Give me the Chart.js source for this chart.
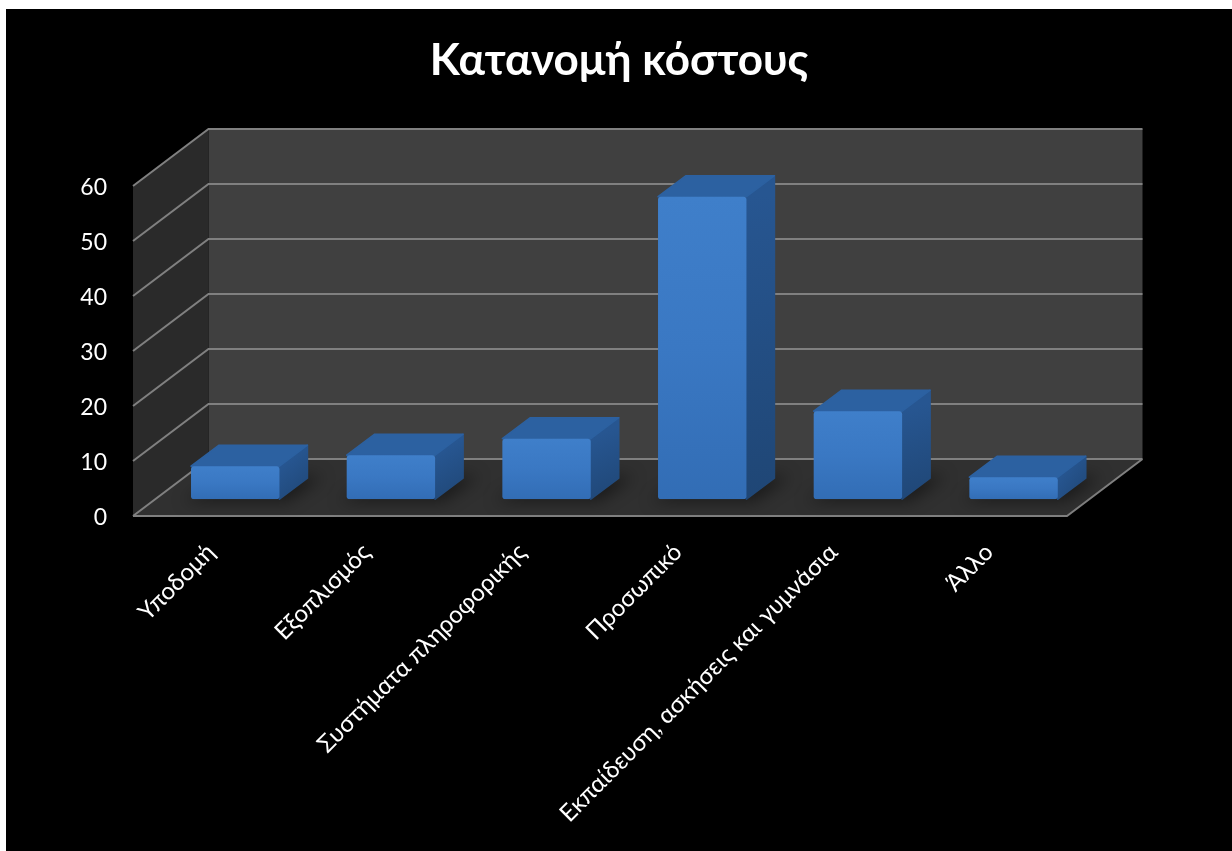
<!DOCTYPE html>
<html>
<head>
<meta charset="utf-8">
<title>Κατανομή κόστους</title>
<script src="https://cdn.jsdelivr.net/npm/chart.js@4/dist/chart.umd.min.js"></script>
<style>
    html, body { margin: 0; background: #fff; }
    #wrap { position: absolute; left: 6px; top: 9px; width: 1226px; height: 842px; background: #000; }
</style>
</head>
<body>
<div id="wrap"><canvas id="costChart" width="1226" height="842"></canvas></div>
<script>
// Chart data
const categories = ['Υποδομή', 'Εξοπλισμός', 'Συστήματα πληροφορικής', 'Προσωπικό', 'Εκπαίδευση, ασκήσεις και γυμνάσια', 'Άλλο'];
const costValues = [6, 8, 11, 55, 16, 4];
const yTicks = [0, 10, 20, 30, 40, 50, 60];

const FONT = 'Lato, "Open Sans", sans-serif';

// Fake 3D: how far the back wall sits from the front plane
const WALL_DX = 75.5, WALL_DY = -57;
// Where the bars stand on the floor, and how deep they are
const BAR_DX = 24.4, BAR_DY = -16.8;
const DEPTH_DX = 28, DEPTH_DY = -21;

function fillPoly(ctx, pts, fill) {
    ctx.beginPath();
    pts.forEach((p, i) => i ? ctx.lineTo(p[0], p[1]) : ctx.moveTo(p[0], p[1]));
    ctx.closePath();
    ctx.fillStyle = fill;
    ctx.fill();
}

function linGrad(ctx, x0, y0, x1, y1, c0, c1) {
    const g = ctx.createLinearGradient(x0, y0, x1, y1);
    g.addColorStop(0, c0);
    g.addColorStop(1, c1);
    return g;
}

function barGeometry(chart) {
    return chart.getDatasetMeta(0).data.map(el => {
        const p = el.getProps(['x', 'y', 'base', 'width'], true);
        return {
            l: p.x - p.width / 2 + BAR_DX,
            r: p.x + p.width / 2 + BAR_DX,
            top: p.y + BAR_DY,
            base: p.base + BAR_DY
        };
    });
}

const room3d = {
    id: 'room3d',
    afterLayout(chart) {
        // Lato sits a little high on the middle baseline, nudge the value labels down
        const y = chart.scales.y;
        const drawLabels = y.drawLabels;
        y.drawLabels = function (area) {
            chart.ctx.save();
            chart.ctx.translate(0, 2);
            drawLabels.call(y, area);
            chart.ctx.restore();
        };
    },
    beforeDatasetsDraw(chart) {
        const ctx = chart.ctx;
        const { left, right, top, bottom } = chart.chartArea;
        const y = chart.scales.y;
        const dx = WALL_DX, dy = WALL_DY;

        // walls and floor
        fillPoly(ctx, [[left + dx, top + dy], [right + dx, top + dy], [right + dx, bottom + dy], [left + dx, bottom + dy]], '#404040');
        fillPoly(ctx, [[left, top], [left + dx, top + dy], [left + dx, bottom + dy], [left, bottom]], '#2a2a2a');
        fillPoly(ctx, [[left, bottom], [left + dx, bottom + dy], [right + dx, bottom + dy], [right, bottom]], '#303030');

        // grid lines run along the side wall and then across the back wall
        ctx.lineWidth = 2;
        ctx.strokeStyle = '#808080';
        yTicks.forEach(v => {
            const py = y.getPixelForValue(v);
            ctx.beginPath();
            ctx.moveTo(left, py);
            ctx.lineTo(left + dx, py + dy);
            ctx.lineTo(right + dx, py + dy);
            if (v === 0) {
                ctx.moveTo(left, py);
                ctx.lineTo(right, py);
                ctx.lineTo(right + dx, py + dy);
            }
            ctx.stroke();
        });

        const bars = barGeometry(chart);

        // soft shadows on the floor
        ctx.save();
        ctx.filter = 'blur(8px)';
        bars.forEach(b => {
            fillPoly(ctx, [
                [b.l - 8, b.base + 2],
                [b.r + 8, b.base + 2],
                [b.r + DEPTH_DX + 16, b.base + DEPTH_DY - 2],
                [b.l + DEPTH_DX + 8, b.base + DEPTH_DY - 2]
            ], 'rgba(0,0,0,0.45)');
        });
        ctx.restore();

        // side and top faces, the front face comes from the bar itself
        ctx.lineJoin = 'round';
        ctx.lineWidth = 1.5;
        bars.forEach(b => {
            fillPoly(ctx, [
                [b.r, b.top],
                [b.r + DEPTH_DX, b.top + DEPTH_DY],
                [b.r + DEPTH_DX, b.base + DEPTH_DY],
                [b.r, b.base]
            ], linGrad(ctx, b.r, b.top, b.r + DEPTH_DX, b.base, '#275691', '#1f4675'));
            ctx.strokeStyle = ctx.fillStyle;
            ctx.stroke();
            fillPoly(ctx, [
                [b.l, b.top],
                [b.l + DEPTH_DX, b.top + DEPTH_DY],
                [b.r + DEPTH_DX, b.top + DEPTH_DY],
                [b.r, b.top]
            ], '#2c61a1');
            ctx.strokeStyle = '#2c61a1';
            ctx.stroke();
        });

        ctx.save();
        ctx.translate(BAR_DX, BAR_DY);
    },
    afterDatasetsDraw(chart) {
        chart.ctx.restore();
    }
};

function frontFace(context) {
    const chart = context.chart;
    if (!chart.chartArea || context.dataIndex === undefined) return '#3a78c3';
    const y = chart.scales.y;
    const top = y.getPixelForValue(costValues[context.dataIndex]);
    const g = chart.ctx.createLinearGradient(0, top, 0, y.getPixelForValue(0));
    g.addColorStop(0, '#3f7fca');
    g.addColorStop(0.5, '#3a78c3');
    g.addColorStop(1, '#326db5');
    return g;
}

new Chart(document.getElementById('costChart'), {
    type: 'bar',
    data: {
        labels: categories,
        datasets: [{
            data: costValues,
            backgroundColor: frontFace,
            borderRadius: 3,
            borderSkipped: false,
            categoryPercentage: 1,
            barPercentage: 0.568
        }]
    },
    options: {
        responsive: false,
        animation: false,
        layout: { padding: 0 },
        plugins: {
            legend: { display: false },
            tooltip: { enabled: false },
            title: {
                display: true,
                text: 'Κατανομή κόστους',
                color: '#fff',
                font: { family: FONT, size: 44, weight: 'bold', lineHeight: 1.2 },
                padding: { top: 25, bottom: 99.2 }
            }
        },
        scales: {
            x: {
                grid: { display: false, drawTicks: false },
                border: { display: false },
                ticks: {
                    color: '#fff',
                    font: { family: FONT, size: 24 },
                    autoSkip: false,
                    minRotation: 45,
                    maxRotation: 45,
                    padding: 22
                },
                afterFit(scale) {
                    scale.height = 335;
                    scale.paddingLeft = 0;
                    scale.paddingRight = 0;
                }
            },
            y: {
                min: 0,
                max: 60,
                grid: { display: false, drawTicks: false },
                border: { display: false },
                afterBuildTicks(scale) {
                    scale.ticks = yTicks.map(v => ({ value: v }));
                },
                ticks: {
                    color: '#fff',
                    font: { family: FONT, size: 23 },
                    padding: 26
                },
                afterFit(scale) {
                    scale.width = 127;
                }
            },
            // empty axis, holds the room on the right for the receding floor
            spacer: {
                position: 'right',
                grid: { display: false, drawTicks: false },
                border: { display: false },
                ticks: { display: false },
                afterFit(scale) {
                    scale.width = 165;
                }
            }
        }
    },
    plugins: [room3d]
});
</script>
</body>
</html>
